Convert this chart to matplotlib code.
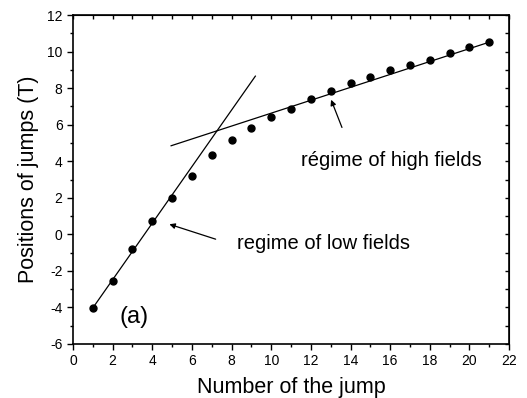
import matplotlib
matplotlib.use("Agg")
import matplotlib.pyplot as plt
from matplotlib.ticker import MultipleLocator

plt.rcParams['font.family'] = ['Liberation Sans', 'DejaVu Sans']
plt.rcParams['axes.unicode_minus'] = False

# measured jump positions
jump_n = list(range(1, 22))
jump_pos = [-4.05, -2.55, -0.82, 0.71, 1.97, 3.21, 4.32, 5.14, 5.80, 6.43,
            6.87, 7.39, 7.86, 8.30, 8.59, 8.97, 9.28, 9.57, 9.94, 10.25, 10.54]

# straight-line fits (end points)
low_fit_x = [1.05, 9.2]
low_fit_y = [-3.95, 8.66]
high_fit_x = [4.95, 21.0]
high_fit_y = [4.85, 10.52]

fig = plt.figure(figsize=(5.27, 3.98), dpi=100)
ax = fig.add_axes([0.1385, 0.1357, 0.8275, 0.8263])

ax.plot(low_fit_x, low_fit_y, color='black', lw=0.9)
ax.plot(high_fit_x, high_fit_y, color='black', lw=0.9)
ax.plot(jump_n, jump_pos, 'o', color='black', markersize=5, zorder=3)

ax.set_xlim(0, 22)
ax.set_ylim(-6, 12)
ax.xaxis.set_major_locator(MultipleLocator(2))
ax.xaxis.set_minor_locator(MultipleLocator(1))
ax.yaxis.set_major_locator(MultipleLocator(2))
ax.yaxis.set_minor_locator(MultipleLocator(1))

ax.tick_params(which='both', direction='out', top=False, right=False,
               labelsize=10, width=1)
ax.tick_params(which='major', length=4)
ax.tick_params(which='minor', length=2.5)

# mirrored inward ticks on top and right, every unit
sec_x = ax.secondary_xaxis('top')
sec_x.xaxis.set_major_locator(MultipleLocator(1))
sec_x.tick_params(direction='in', length=3, labeltop=False, width=1)
sec_y = ax.secondary_yaxis('right')
sec_y.yaxis.set_major_locator(MultipleLocator(1))
sec_y.tick_params(direction='in', length=3, labelright=False, width=1)

for s in ax.spines.values():
    s.set_linewidth(1.2)

ax.set_xlabel('Number of the jump', fontsize=15.5, labelpad=6)
ax.set_ylabel('Positions of jumps (T)', fontsize=15.5, labelpad=6)

arrow = dict(arrowstyle='-|>', color='black', lw=0.9, mutation_scale=8)
ax.annotate('', xy=(12.97, 7.51), xytext=(13.62, 5.71), arrowprops=arrow)
ax.text(11.5, 4.07, 'régime of high fields', fontsize=14.5, va='center')
ax.annotate('', xy=(4.73, 0.6), xytext=(7.33, -0.31), arrowprops=arrow)
ax.text(8.29, -0.49, 'regime of low fields', fontsize=14.5, va='center')
ax.text(2.37, -4.5, '(a)', fontsize=17, va='center')

fig.savefig('out.png', dpi=100)
